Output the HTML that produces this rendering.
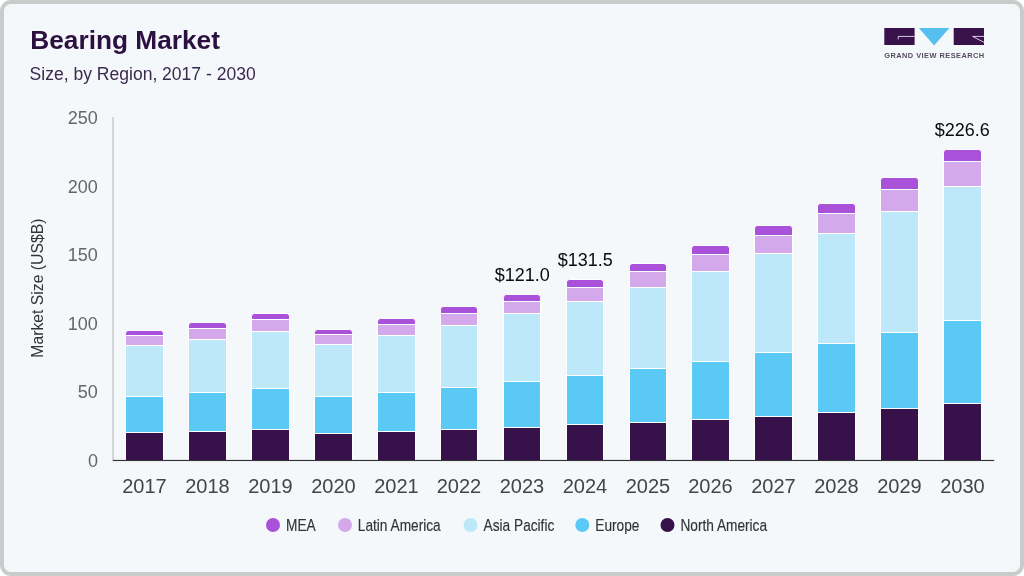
<!DOCTYPE html>
<html lang="en">
<head>
<meta charset="utf-8">
<title>Bearing Market Size, by Region, 2017 - 2030</title>
<style>
html,body{margin:0;padding:0;background:#ffffff;}
body{width:1024px;height:576px;overflow:hidden;font-family:"Liberation Sans", Arial, Helvetica, sans-serif;}
svg{display:block;will-change:transform;transform:translateZ(0);}
svg text{font-family:"Liberation Sans", Arial, Helvetica, sans-serif;}
</style>
</head>
<body>
<svg width="1024" height="576" viewBox="0 0 1024 576">

<rect x="2" y="2" width="1020" height="572" rx="9" ry="9" fill="#f5f8fb" stroke="#c9cccb" stroke-width="4"/>
<text x="30.3" y="49" font-size="26.25" font-weight="bold" fill="#2c1140">Bearing Market</text>
<text x="29.6" y="80.2" font-size="17.55" fill="#3b2a4d">Size, by Region, 2017 - 2030</text>
<g id="logo">
<rect x="884.3" y="28" width="30.3" height="17" fill="#39114b"/>
<path d="M914.6 36.4 H898.2 V39.4" fill="none" stroke="#eadff2" stroke-width="0.9"/>
<polygon points="918.8,28 949.4,28 934.1,45.4" fill="#55c0ee"/>
<rect x="953.7" y="28" width="30.3" height="17" fill="#39114b"/>
<path d="M984 36.4 H972.6 L984 42.3" fill="none" stroke="#eadff2" stroke-width="0.9"/>
<text x="884.2" y="57.7" font-size="7.4" font-weight="bold" fill="#554c5e" textLength="100" lengthAdjust="spacing">GRAND VIEW RESEARCH</text>
</g>
<text x="97.9" y="123.9" font-size="18" fill="#666666" text-anchor="end">250</text>
<text x="97.9" y="192.8" font-size="18" fill="#666666" text-anchor="end">200</text>
<text x="97.9" y="261.2" font-size="18" fill="#666666" text-anchor="end">150</text>
<text x="97.9" y="329.8" font-size="18" fill="#666666" text-anchor="end">100</text>
<text x="97.9" y="398.2" font-size="18" fill="#666666" text-anchor="end">50</text>
<text x="97.9" y="466.8" font-size="18" fill="#666666" text-anchor="end">0</text>
<text transform="translate(43.1,288.15) rotate(-90)" font-size="15.75" fill="#333333" text-anchor="middle">Market Size (US$B)</text>
<rect x="125.5" y="432.5" width="38.0" height="28.0" fill="#37114a" stroke="#ffffff" stroke-width="1"/>
<rect x="125.5" y="396.5" width="38.0" height="36.0" fill="#5bc9f5" stroke="#ffffff" stroke-width="1"/>
<rect x="125.5" y="345.5" width="38.0" height="51.0" fill="#bde8f9" stroke="#ffffff" stroke-width="1"/>
<rect x="125.5" y="335.5" width="38.0" height="10.0" fill="#d3a9ec" stroke="#ffffff" stroke-width="1"/>
<path d="M125.5 335.5 V333.5 Q125.5 330.5 128.5 330.5 H160.5 Q163.5 330.5 163.5 333.5 V335.5 Z" fill="#a951d8" stroke="#ffffff" stroke-width="1"/>
<rect x="188.5" y="431.5" width="38.0" height="29.0" fill="#37114a" stroke="#ffffff" stroke-width="1"/>
<rect x="188.5" y="392.5" width="38.0" height="39.0" fill="#5bc9f5" stroke="#ffffff" stroke-width="1"/>
<rect x="188.5" y="339.5" width="38.0" height="53.0" fill="#bde8f9" stroke="#ffffff" stroke-width="1"/>
<rect x="188.5" y="328.5" width="38.0" height="11.0" fill="#d3a9ec" stroke="#ffffff" stroke-width="1"/>
<path d="M188.5 328.5 V325.5 Q188.5 322.5 191.5 322.5 H223.5 Q226.5 322.5 226.5 325.5 V328.5 Z" fill="#a951d8" stroke="#ffffff" stroke-width="1"/>
<rect x="251.5" y="429.5" width="38.0" height="31.0" fill="#37114a" stroke="#ffffff" stroke-width="1"/>
<rect x="251.5" y="388.5" width="38.0" height="41.0" fill="#5bc9f5" stroke="#ffffff" stroke-width="1"/>
<rect x="251.5" y="331.5" width="38.0" height="57.0" fill="#bde8f9" stroke="#ffffff" stroke-width="1"/>
<rect x="251.5" y="319.5" width="38.0" height="12.0" fill="#d3a9ec" stroke="#ffffff" stroke-width="1"/>
<path d="M251.5 319.5 V316.5 Q251.5 313.5 254.5 313.5 H286.5 Q289.5 313.5 289.5 316.5 V319.5 Z" fill="#a951d8" stroke="#ffffff" stroke-width="1"/>
<rect x="314.5" y="433.5" width="38.0" height="27.0" fill="#37114a" stroke="#ffffff" stroke-width="1"/>
<rect x="314.5" y="396.5" width="38.0" height="37.0" fill="#5bc9f5" stroke="#ffffff" stroke-width="1"/>
<rect x="314.5" y="344.5" width="38.0" height="52.0" fill="#bde8f9" stroke="#ffffff" stroke-width="1"/>
<rect x="314.5" y="334.5" width="38.0" height="10.0" fill="#d3a9ec" stroke="#ffffff" stroke-width="1"/>
<path d="M314.5 334.5 V332.5 Q314.5 329.5 317.5 329.5 H349.5 Q352.5 329.5 352.5 332.5 V334.5 Z" fill="#a951d8" stroke="#ffffff" stroke-width="1"/>
<rect x="377.5" y="431.5" width="38.0" height="29.0" fill="#37114a" stroke="#ffffff" stroke-width="1"/>
<rect x="377.5" y="392.5" width="38.0" height="39.0" fill="#5bc9f5" stroke="#ffffff" stroke-width="1"/>
<rect x="377.5" y="335.5" width="38.0" height="57.0" fill="#bde8f9" stroke="#ffffff" stroke-width="1"/>
<rect x="377.5" y="324.5" width="38.0" height="11.0" fill="#d3a9ec" stroke="#ffffff" stroke-width="1"/>
<path d="M377.5 324.5 V321.5 Q377.5 318.5 380.5 318.5 H412.5 Q415.5 318.5 415.5 321.5 V324.5 Z" fill="#a951d8" stroke="#ffffff" stroke-width="1"/>
<rect x="440.5" y="429.5" width="37.0" height="31.0" fill="#37114a" stroke="#ffffff" stroke-width="1"/>
<rect x="440.5" y="387.5" width="37.0" height="42.0" fill="#5bc9f5" stroke="#ffffff" stroke-width="1"/>
<rect x="440.5" y="325.5" width="37.0" height="62.0" fill="#bde8f9" stroke="#ffffff" stroke-width="1"/>
<rect x="440.5" y="313.5" width="37.0" height="12.0" fill="#d3a9ec" stroke="#ffffff" stroke-width="1"/>
<path d="M440.5 313.5 V309.5 Q440.5 306.5 443.5 306.5 H474.5 Q477.5 306.5 477.5 309.5 V313.5 Z" fill="#a951d8" stroke="#ffffff" stroke-width="1"/>
<rect x="503.5" y="427.5" width="37.0" height="33.0" fill="#37114a" stroke="#ffffff" stroke-width="1"/>
<rect x="503.5" y="381.5" width="37.0" height="46.0" fill="#5bc9f5" stroke="#ffffff" stroke-width="1"/>
<rect x="503.5" y="313.5" width="37.0" height="68.0" fill="#bde8f9" stroke="#ffffff" stroke-width="1"/>
<rect x="503.5" y="301.5" width="37.0" height="12.0" fill="#d3a9ec" stroke="#ffffff" stroke-width="1"/>
<path d="M503.5 301.5 V297.5 Q503.5 294.5 506.5 294.5 H537.5 Q540.5 294.5 540.5 297.5 V301.5 Z" fill="#a951d8" stroke="#ffffff" stroke-width="1"/>
<rect x="566.5" y="424.5" width="37.0" height="36.0" fill="#37114a" stroke="#ffffff" stroke-width="1"/>
<rect x="566.5" y="375.5" width="37.0" height="49.0" fill="#5bc9f5" stroke="#ffffff" stroke-width="1"/>
<rect x="566.5" y="301.5" width="37.0" height="74.0" fill="#bde8f9" stroke="#ffffff" stroke-width="1"/>
<rect x="566.5" y="287.5" width="37.0" height="14.0" fill="#d3a9ec" stroke="#ffffff" stroke-width="1"/>
<path d="M566.5 287.5 V282.5 Q566.5 279.5 569.5 279.5 H600.5 Q603.5 279.5 603.5 282.5 V287.5 Z" fill="#a951d8" stroke="#ffffff" stroke-width="1"/>
<rect x="629.5" y="422.5" width="37.0" height="38.0" fill="#37114a" stroke="#ffffff" stroke-width="1"/>
<rect x="629.5" y="368.5" width="37.0" height="54.0" fill="#5bc9f5" stroke="#ffffff" stroke-width="1"/>
<rect x="629.5" y="287.5" width="37.0" height="81.0" fill="#bde8f9" stroke="#ffffff" stroke-width="1"/>
<rect x="629.5" y="271.5" width="37.0" height="16.0" fill="#d3a9ec" stroke="#ffffff" stroke-width="1"/>
<path d="M629.5 271.5 V266.5 Q629.5 263.5 632.5 263.5 H663.5 Q666.5 263.5 666.5 266.5 V271.5 Z" fill="#a951d8" stroke="#ffffff" stroke-width="1"/>
<rect x="691.5" y="419.5" width="38.0" height="41.0" fill="#37114a" stroke="#ffffff" stroke-width="1"/>
<rect x="691.5" y="361.5" width="38.0" height="58.0" fill="#5bc9f5" stroke="#ffffff" stroke-width="1"/>
<rect x="691.5" y="271.5" width="38.0" height="90.0" fill="#bde8f9" stroke="#ffffff" stroke-width="1"/>
<rect x="691.5" y="254.5" width="38.0" height="17.0" fill="#d3a9ec" stroke="#ffffff" stroke-width="1"/>
<path d="M691.5 254.5 V248.5 Q691.5 245.5 694.5 245.5 H726.5 Q729.5 245.5 729.5 248.5 V254.5 Z" fill="#a951d8" stroke="#ffffff" stroke-width="1"/>
<rect x="754.5" y="416.5" width="38.0" height="44.0" fill="#37114a" stroke="#ffffff" stroke-width="1"/>
<rect x="754.5" y="352.5" width="38.0" height="64.0" fill="#5bc9f5" stroke="#ffffff" stroke-width="1"/>
<rect x="754.5" y="253.5" width="38.0" height="99.0" fill="#bde8f9" stroke="#ffffff" stroke-width="1"/>
<rect x="754.5" y="235.5" width="38.0" height="18.0" fill="#d3a9ec" stroke="#ffffff" stroke-width="1"/>
<path d="M754.5 235.5 V228.5 Q754.5 225.5 757.5 225.5 H789.5 Q792.5 225.5 792.5 228.5 V235.5 Z" fill="#a951d8" stroke="#ffffff" stroke-width="1"/>
<rect x="817.5" y="412.5" width="38.0" height="48.0" fill="#37114a" stroke="#ffffff" stroke-width="1"/>
<rect x="817.5" y="343.5" width="38.0" height="69.0" fill="#5bc9f5" stroke="#ffffff" stroke-width="1"/>
<rect x="817.5" y="233.5" width="38.0" height="110.0" fill="#bde8f9" stroke="#ffffff" stroke-width="1"/>
<rect x="817.5" y="213.5" width="38.0" height="20.0" fill="#d3a9ec" stroke="#ffffff" stroke-width="1"/>
<path d="M817.5 213.5 V206.5 Q817.5 203.5 820.5 203.5 H852.5 Q855.5 203.5 855.5 206.5 V213.5 Z" fill="#a951d8" stroke="#ffffff" stroke-width="1"/>
<rect x="880.5" y="408.5" width="38.0" height="52.0" fill="#37114a" stroke="#ffffff" stroke-width="1"/>
<rect x="880.5" y="332.5" width="38.0" height="76.0" fill="#5bc9f5" stroke="#ffffff" stroke-width="1"/>
<rect x="880.5" y="211.5" width="38.0" height="121.0" fill="#bde8f9" stroke="#ffffff" stroke-width="1"/>
<rect x="880.5" y="189.5" width="38.0" height="22.0" fill="#d3a9ec" stroke="#ffffff" stroke-width="1"/>
<path d="M880.5 189.5 V180.5 Q880.5 177.5 883.5 177.5 H915.5 Q918.5 177.5 918.5 180.5 V189.5 Z" fill="#a951d8" stroke="#ffffff" stroke-width="1"/>
<rect x="943.5" y="403.5" width="38.0" height="57.0" fill="#37114a" stroke="#ffffff" stroke-width="1"/>
<rect x="943.5" y="320.5" width="38.0" height="83.0" fill="#5bc9f5" stroke="#ffffff" stroke-width="1"/>
<rect x="943.5" y="186.5" width="38.0" height="134.0" fill="#bde8f9" stroke="#ffffff" stroke-width="1"/>
<rect x="943.5" y="161.5" width="38.0" height="25.0" fill="#d3a9ec" stroke="#ffffff" stroke-width="1"/>
<path d="M943.5 161.5 V152.5 Q943.5 149.5 946.5 149.5 H978.5 Q981.5 149.5 981.5 152.5 V161.5 Z" fill="#a951d8" stroke="#ffffff" stroke-width="1"/>
<rect x="112.33" y="117" width="1.34" height="343.5" fill="#c4c6c8"/>
<rect x="112.8" y="459.9" width="881.4" height="1.15" fill="#333333"/>
<text x="144.5" y="493" font-size="20" fill="#444444" text-anchor="middle">2017</text>
<text x="207.5" y="493" font-size="20" fill="#444444" text-anchor="middle">2018</text>
<text x="270.5" y="493" font-size="20" fill="#444444" text-anchor="middle">2019</text>
<text x="333.5" y="493" font-size="20" fill="#444444" text-anchor="middle">2020</text>
<text x="396.5" y="493" font-size="20" fill="#444444" text-anchor="middle">2021</text>
<text x="459.0" y="493" font-size="20" fill="#444444" text-anchor="middle">2022</text>
<text x="522.0" y="493" font-size="20" fill="#444444" text-anchor="middle">2023</text>
<text x="585.0" y="493" font-size="20" fill="#444444" text-anchor="middle">2024</text>
<text x="648.0" y="493" font-size="20" fill="#444444" text-anchor="middle">2025</text>
<text x="710.5" y="493" font-size="20" fill="#444444" text-anchor="middle">2026</text>
<text x="773.5" y="493" font-size="20" fill="#444444" text-anchor="middle">2027</text>
<text x="836.5" y="493" font-size="20" fill="#444444" text-anchor="middle">2028</text>
<text x="899.5" y="493" font-size="20" fill="#444444" text-anchor="middle">2029</text>
<text x="962.5" y="493" font-size="20" fill="#444444" text-anchor="middle">2030</text>
<text x="522.3" y="280.5" font-size="18" fill="#0a0a0a" text-anchor="middle">$121.0</text>
<text x="585.2" y="266.3" font-size="18" fill="#0a0a0a" text-anchor="middle">$131.5</text>
<text x="962.2" y="136" font-size="18" fill="#0a0a0a" text-anchor="middle">$226.6</text>
<circle cx="273" cy="525" r="7" fill="#a951d8"/>
<text transform="translate(286.1,531) scale(0.856,1)" font-size="16" fill="#333333" stroke="#333333" stroke-width="0.15">MEA</text>
<circle cx="345" cy="525" r="7" fill="#d3a9ec"/>
<text transform="translate(357.8,531) scale(0.856,1)" font-size="16" fill="#333333" stroke="#333333" stroke-width="0.15">Latin America</text>
<circle cx="470.5" cy="525" r="7" fill="#bde8f9"/>
<text transform="translate(483.6,531) scale(0.856,1)" font-size="16" fill="#333333" stroke="#333333" stroke-width="0.15">Asia Pacific</text>
<circle cx="582.3" cy="525" r="7" fill="#5bc9f5"/>
<text transform="translate(595.3,531) scale(0.856,1)" font-size="16" fill="#333333" stroke="#333333" stroke-width="0.15">Europe</text>
<circle cx="667.5" cy="525" r="7" fill="#37114a"/>
<text transform="translate(680.4,531) scale(0.856,1)" font-size="16" fill="#333333" stroke="#333333" stroke-width="0.15">North America</text>
</svg>
</body>
</html>
